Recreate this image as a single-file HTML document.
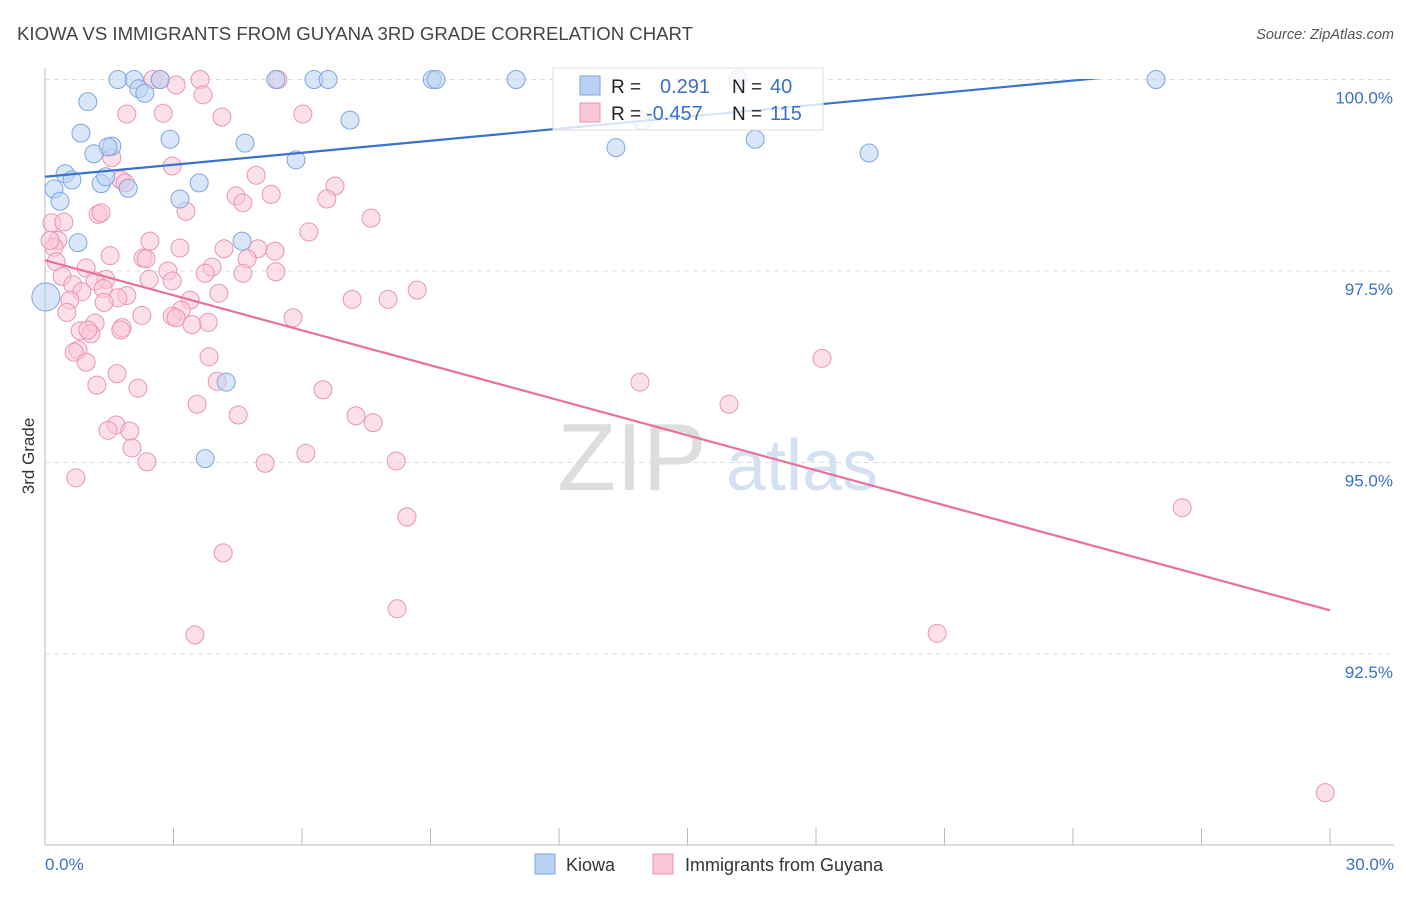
<!DOCTYPE html>
<html><head><meta charset="utf-8"><style>
body{margin:0;background:#fff;font-family:"Liberation Sans",sans-serif}
svg text{font-family:"Liberation Sans",sans-serif}
</style></head><body>
<svg id="c" width="1406" height="892" xmlns="http://www.w3.org/2000/svg">
<text x="17" y="40" font-size="18.6" fill="#444">KIOWA VS IMMIGRANTS FROM GUYANA 3RD GRADE CORRELATION CHART</text>
<text x="1394" y="39" font-size="14.5" fill="#555" font-style="italic" text-anchor="end">Source: ZipAtlas.com</text>
<text x="0" y="0" font-size="17" fill="#333" text-anchor="middle" transform="translate(34,456) rotate(-90)">3rd Grade</text>
<g><text x="632" y="490" font-size="96" fill="#ddd" font-family="Liberation Serif" text-anchor="middle">ZIP</text><text x="802" y="490" font-size="72" fill="#d3e1f3" text-anchor="middle">atlas</text></g>
<g id="grid"></g><g id="axes"></g>
<defs><clipPath id="plot"><rect x="45" y="79" width="1300" height="770"/></clipPath></defs>
<g id="pts"></g><g id="trends" clip-path="url(#plot)"></g>
<g>
<rect x="553" y="68" width="270" height="62" fill="#fff" fill-opacity="0.8" stroke="#ddd"/>
<rect x="580" y="76" width="20" height="19" fill="#b9d2f3" stroke="#7da6e0"/>
<rect x="580" y="103" width="20" height="19" fill="#f9c6d6" stroke="#eb94b2"/>
<text x="611" y="93" font-size="19" fill="#222">R =</text><text x="660" y="93" font-size="20" fill="#3a6fc9">0.291</text>
<text x="732" y="93" font-size="19" fill="#222">N =</text><text x="770" y="93" font-size="20" fill="#3a6fc9">40</text>
<text x="611" y="120" font-size="19" fill="#222">R =</text><text x="646" y="120" font-size="20" fill="#3a6fc9">-0.457</text>
<text x="732" y="120" font-size="19" fill="#222">N =</text><text x="770" y="120" font-size="20" fill="#3a6fc9">115</text>
</g>
<g>
<rect x="535" y="854" width="20" height="20" fill="#b9d2f3" stroke="#7da6e0"/><text x="566" y="871" font-size="18" fill="#333">Kiowa</text>
<rect x="653" y="854" width="20" height="20" fill="#f9c6d6" stroke="#eb94b2"/><text x="685" y="871" font-size="18" fill="#333">Immigrants from Guyana</text>
</g>
</svg>
<script>
const NS="http://www.w3.org/2000/svg";
const yTicks=[100,97.5,95,92.5];
const yTickLabels=["100.0%","97.5%","95.0%","92.5%"];
const xTicks=[0,3,6,9,12,15,18,21,24,27,30];
const xTickLabels=["0.0%","30.0%"];
const kiowaX=[1.70,2.08,2.69,5.39,6.28,6.61,9.04,9.13,11.0,16.18,25.94,1.00,2.19,2.33,0.84,2.92,1.56,1.47,1.14,4.67,7.12,5.86,13.33,16.58,19.24,13.94,0.47,0.63,0.21,0.35,1.31,1.42,1.94,3.60,3.15,0.77,4.60,0.02,4.23,3.74];
const kiowaY=[100,100,100,100,100,100,100,100,100,100,100,99.71,99.88,99.82,99.30,99.22,99.13,99.12,99.03,99.17,99.47,98.95,99.11,99.22,99.04,99.46,98.77,98.69,98.57,98.41,98.64,98.73,98.58,98.65,98.44,97.87,97.89,97.16,96.05,95.05];
const guyX=[2.52,2.69,3.62,5.44,3.06,3.69,1.91,2.76,4.13,6.02,1.56,2.97,4.93,1.77,1.87,6.77,4.46,5.28,6.58,4.62,3.29,1.24,1.31,7.61,0.16,0.44,6.16,0.30,2.45,0.21,3.15,4.18,4.97,5.37,1.52,2.29,2.36,4.72,0.26,0.96,2.87,3.90,3.74,4.62,5.39,0.40,1.42,2.43,2.97,1.17,0.65,0.86,1.36,4.06,8.69,7.17,8.01,1.91,1.70,3.39,0.58,1.38,0.51,2.26,3.18,2.97,3.06,3.81,5.79,3.43,1.17,1.80,1.77,0.82,1.07,1.00,0.77,0.68,0.96,3.83,18.14,1.68,1.21,2.17,4.02,6.49,13.89,3.55,15.97,4.51,7.26,7.66,1.66,1.47,1.98,2.03,6.09,2.38,5.14,8.20,0.72,8.45,26.55,4.16,8.22,3.50,20.83,29.89,0.12];
const guyY=[100,100,100,100,99.93,99.80,99.55,99.56,99.51,99.55,98.98,98.87,98.75,98.69,98.65,98.61,98.48,98.50,98.44,98.39,98.28,98.24,98.26,98.19,98.13,98.14,98.01,97.90,97.89,97.81,97.80,97.79,97.79,97.76,97.70,97.67,97.66,97.66,97.62,97.54,97.50,97.55,97.47,97.47,97.49,97.43,97.39,97.39,97.37,97.37,97.32,97.23,97.27,97.21,97.25,97.13,97.13,97.18,97.15,97.12,97.12,97.09,96.96,96.92,96.99,96.91,96.89,96.83,96.89,96.80,96.82,96.76,96.73,96.72,96.68,96.73,96.47,96.44,96.31,96.38,96.36,96.16,96.01,95.97,96.06,95.95,96.05,95.76,95.76,95.62,95.61,95.52,95.49,95.42,95.41,95.19,95.12,95.01,94.99,95.02,94.80,94.29,94.41,93.82,93.09,92.75,92.77,90.69,97.90];
const kiowaTrend=[98.73,100.30];
const guyTrend=[97.64,93.07];
const sx=v=>45+v/30*1285;
const sy=v=>79.5+(100-v)*76.6;
function mk(tag,attrs,parent){const e=document.createElementNS(NS,tag);for(const k in attrs)e.setAttribute(k,attrs[k]);document.getElementById(parent).appendChild(e);return e;}
yTicks.forEach((t,i)=>{
 const l=mk('line',{x1:45,x2:1394,y1:sy(t),y2:sy(t),stroke:'#ddd','stroke-dasharray':'5,4'},'grid');
 
 
 const tx=mk('text',{x:1393,y:sy(t)+24,'font-size':17,fill:'#3a6fc9','text-anchor':'end'},'axes');
 tx.textContent=yTickLabels[i];
 
 
});
const ax=mk('line',{x1:45,x2:45,y1:68,y2:845,stroke:'#bbb'},'axes');


const bx=mk('line',{x1:45,x2:1394,y1:845,y2:845,stroke:'#bbb'},'axes');


xTicks.forEach(t=>{
 const l=mk('line',{x1:sx(t),x2:sx(t),y1:828,y2:845,stroke:'#bbb'},'axes');
 
 
});
[[0,'start',45],[30,'end',1394]].forEach((d,i)=>{
 const tx=mk('text',{x:d[2],y:870,'font-size':17,fill:'#3a6fc9','text-anchor':d[1]},'axes');
 tx.textContent=xTickLabels[i];
 
 
});
guyX.forEach((x,i)=>{
 const c=mk('circle',{cx:sx(x),cy:sy(guyY[i]),r:9,fill:'#f9c6d6','fill-opacity':0.55,stroke:'#eb94b2','stroke-width':1},'pts');
 
 
});
kiowaX.forEach((x,i)=>{
 const c=mk('circle',{cx:sx(x),cy:sy(kiowaY[i]),r:(i==37?14:9),fill:'#b9d2f3','fill-opacity':0.55,stroke:'#7da6e0','stroke-width':1},'pts');
 
 
});
const t1=mk('line',{x1:sx(0),y1:sy(kiowaTrend[0]),x2:sx(30),y2:sy(kiowaTrend[1]),stroke:'#3a72d0','stroke-width':2.2},'trends');


const t2=mk('line',{x1:sx(0),y1:sy(guyTrend[0]),x2:sx(30),y2:sy(guyTrend[1]),stroke:'#e8709a','stroke-width':2.2},'trends');


</script>
</body></html>
